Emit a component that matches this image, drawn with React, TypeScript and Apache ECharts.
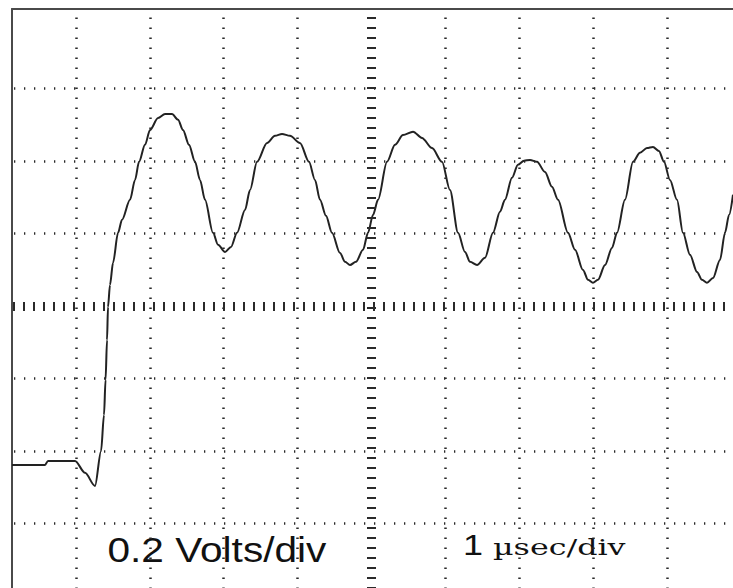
import React, { useEffect, useRef } from "react";
import * as echarts from "echarts";

// Time (µs, scope screen 0..10 divisions, centre line = 5) and trace voltage (V)
const timeUs = [
  0.135, 0.582, 0.622, 0.988, 1.123, 1.258, 1.34, 1.38, 1.401, 1.421, 1.434, 1.461, 1.502, 1.57, 1.624,
  1.732, 1.8, 1.854, 1.935, 2.003, 2.111, 2.206, 2.3, 2.382, 2.449, 2.53, 2.612, 2.679, 2.747, 2.855,
  2.923, 3.018, 3.099, 3.18, 3.288, 3.356, 3.451, 3.586, 3.694, 3.789, 3.897, 4.032, 4.154, 4.235,
  4.303, 4.384, 4.465, 4.574, 4.641, 4.709, 4.79, 4.885, 4.953, 5.02, 5.088, 5.21, 5.318, 5.426, 5.562,
  5.683, 5.819, 5.954, 6.062, 6.171, 6.265, 6.333, 6.428, 6.536, 6.644, 6.739, 6.806, 6.901, 6.982,
  7.064, 7.145, 7.24, 7.348, 7.442, 7.524, 7.659, 7.754, 7.862, 7.93, 7.997, 8.065, 8.16, 8.254, 8.322,
  8.43, 8.539, 8.633, 8.728, 8.809, 8.89, 8.958, 9.039, 9.134, 9.215, 9.31, 9.405, 9.472, 9.54, 9.621,
  9.716, 9.784, 9.838, 9.892,
];
const volts = [
  -0.439, -0.439, -0.428, -0.428, -0.461, -0.497, -0.401, -0.301, -0.204, -0.094, -0.003, 0.058, 0.119,
  0.202, 0.238, 0.293, 0.348, 0.398, 0.445, 0.486, 0.519, 0.53, 0.53, 0.514, 0.486, 0.445, 0.398, 0.348,
  0.293, 0.202, 0.169, 0.149, 0.163, 0.202, 0.265, 0.32, 0.398, 0.45, 0.47, 0.475, 0.47, 0.45, 0.398,
  0.348, 0.293, 0.249, 0.202, 0.146, 0.122, 0.113, 0.122, 0.155, 0.202, 0.251, 0.293, 0.398, 0.445,
  0.472, 0.481, 0.464, 0.436, 0.398, 0.32, 0.202, 0.149, 0.122, 0.113, 0.133, 0.202, 0.26, 0.293, 0.354,
  0.39, 0.401, 0.403, 0.398, 0.37, 0.329, 0.293, 0.202, 0.155, 0.099, 0.072, 0.064, 0.072, 0.113, 0.16,
  0.202, 0.293, 0.398, 0.423, 0.436, 0.439, 0.428, 0.398, 0.348, 0.293, 0.202, 0.141, 0.094, 0.072,
  0.064, 0.077, 0.127, 0.202, 0.251, 0.307,
];

// Graticule (divisions)
const xGridValues = [1, 2, 3, 4, 6, 7, 8, 9];
const xCenterValue = 5;
const yGridValues = [-0.6, -0.4, -0.2, 0.2, 0.4, 0.6];
const yCenterValue = 0;

// Visible window of the screen
const xRange = [0.135, 9.892];
const yRange = [-0.779, 0.82];

const voltsLabel = "0.2 Volts/div";
const timeLabelNumber = "1";
const timeLabelUnit = "µsec/div";

export default function App() {
  const ref = useRef<HTMLDivElement>(null);

  useEffect(() => {
    if (!ref.current) return;
    const chart = echarts.init(ref.current, undefined, { renderer: "svg" });
    const dotColor = "#2a2a2a";

    const gridLines: any[] = [];
    xGridValues.forEach((v) =>
      gridLines.push({
        xAxis: v,
        lineStyle: { color: dotColor, width: 2.5, type: [1.5, 8.5], dashOffset: 1 },
      })
    );
    yGridValues.forEach((v) =>
      gridLines.push({
        yAxis: v,
        lineStyle: { color: dotColor, width: 2.5, type: [1.3, 8.7], dashOffset: 8 },
      })
    );
    gridLines.push({
      xAxis: xCenterValue,
      lineStyle: { color: dotColor, width: 9, type: [2, 8], dashOffset: 1 },
    });
    gridLines.push({
      yAxis: yCenterValue,
      lineStyle: { color: dotColor, width: 9, type: [2, 8], dashOffset: 9 },
    });

    chart.setOption({
      animation: false,
      backgroundColor: "#ffffff",
      grid: { left: 12, top: 9, right: 0, bottom: 0, containLabel: false },
      xAxis: {
        type: "value",
        position: "top",
        min: xRange[0],
        max: xRange[1],
        axisLine: { show: true, onZero: false, lineStyle: { color: "#4a4a4a", width: 2 } },
        axisTick: { show: false },
        axisLabel: { show: false },
        splitLine: { show: false },
      },
      yAxis: {
        type: "value",
        position: "left",
        min: yRange[0],
        max: yRange[1],
        axisLine: { show: true, onZero: false, lineStyle: { color: "#4a4a4a", width: 2 } },
        axisTick: { show: false },
        axisLabel: { show: false },
        splitLine: { show: false },
      },
      series: [
        {
          type: "line",
          data: [],
          z: 1,
          silent: true,
          markLine: {
            silent: true,
            symbol: ["none", "none"],
            label: { show: false },
            emphasis: { disabled: true },
            data: gridLines,
          },
        },
        {
          type: "line",
          z: 3,
          silent: true,
          data: timeUs.map((t, i) => [t, volts[i]]),
          showSymbol: false,
          smooth: 0.3,
          smoothMonotone: "x",
          lineStyle: { color: "#222222", width: 2 },
        },
      ],
      graphic: [
        {
          type: "text",
          x: 107.5,
          y: 532,
          scaleX: 1.16,
          silent: true,
          style: {
            text: voltsLabel,
            fontSize: 35,
            fontFamily: "Liberation Sans",
            fill: "#111111",
            align: "left",
            verticalAlign: "top",
          },
        },
        {
          type: "text",
          x: 463,
          y: 529.6,
          scaleX: 1.2,
          silent: true,
          style: {
            text: timeLabelNumber,
            fontSize: 30,
            fontFamily: "Liberation Sans",
            fill: "#111111",
            align: "left",
            verticalAlign: "top",
          },
        },
        {
          type: "text",
          x: 493,
          y: 535.5,
          scaleX: 1.38,
          silent: true,
          style: {
            text: timeLabelUnit,
            fontSize: 23,
            fontFamily: "DejaVu Serif",
            fill: "#111111",
            align: "left",
            verticalAlign: "top",
          },
        },
      ],
    });
    return () => chart.dispose();
  }, []);

  return (
    <div
      ref={ref}
      style={{ position: "fixed", left: 0, top: 0, width: 733, height: 588, background: "#fff" }}
    />
  );
}
